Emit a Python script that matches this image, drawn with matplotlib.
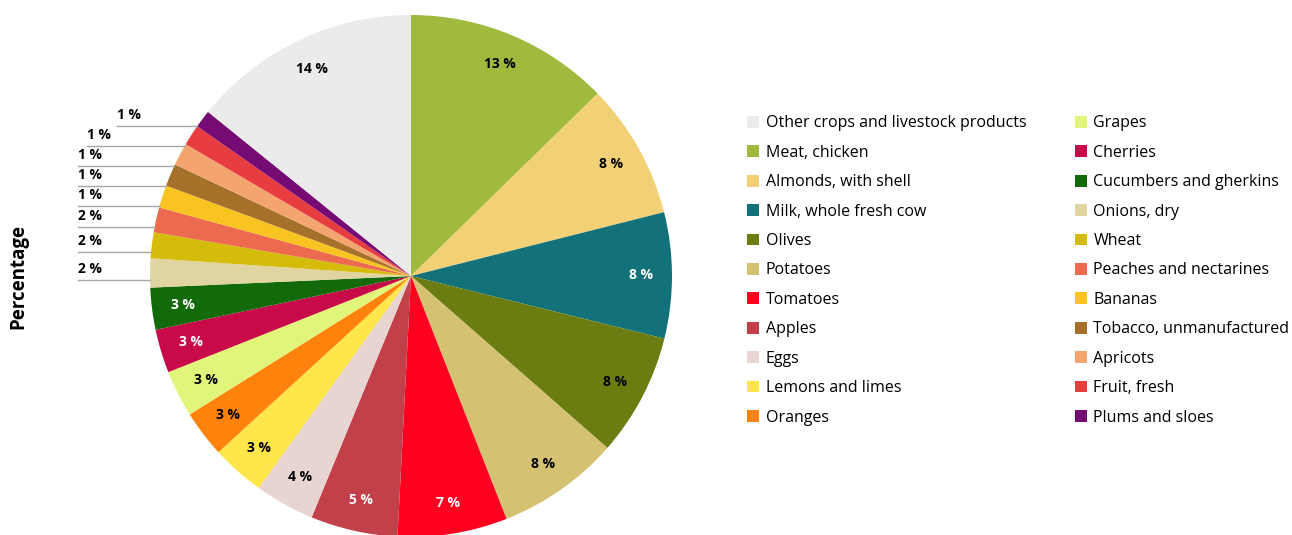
import numpy as np
import matplotlib
matplotlib.use('Agg')
import matplotlib.pyplot as plt
from matplotlib.patches import Patch

plt.rcParams['font.family'] = ['Open Sans', 'DejaVu Sans']

# share of production value, clockwise from 12 o'clock
products = ['Meat, chicken', 'Almonds, with shell', 'Milk, whole fresh cow', 'Olives',
            'Potatoes', 'Tomatoes', 'Apples', 'Eggs', 'Lemons and limes', 'Oranges',
            'Grapes', 'Cherries', 'Cucumbers and gherkins', 'Onions, dry', 'Wheat',
            'Peaches and nectarines', 'Bananas', 'Tobacco, unmanufactured', 'Apricots',
            'Fruit, fresh', 'Plums and sloes', 'Other crops and livestock products']
share = [12.7, 8.4, 7.8, 7.6, 7.6, 6.8, 5.4, 3.7, 3.3, 2.9,
         2.9, 2.7, 2.6, 1.8, 1.6, 1.55, 1.4, 1.4, 1.4, 1.3, 1.1, 14.2]
colors = ['#9fba3c', '#f2d176', '#13717a', '#6b7d10', '#d4c272', '#ff0020', '#c2404a',
          '#e8d5d2', '#ffe64a', '#ff820d', '#e1f57b', '#c80a48', '#136a0b', '#e0d5a0',
          '#d6bc0a', '#ec6a4d', '#f9c322', '#a5702a', '#f4a46e', '#e83d40', '#760b74',
          '#ebebeb']
white_text = ['Milk, whole fresh cow', 'Tomatoes', 'Apples', 'Cherries', 'Cucumbers and gherkins']

fig = plt.figure(figsize=(12.92, 5.35), dpi=100)
R_PX = 261
ax = fig.add_axes([150 / 1292, -2 / 535, 2 * R_PX / 1292, 2 * R_PX / 535])

wedges, _ = ax.pie(share, colors=colors, startangle=90, counterclock=False,
                   radius=1, wedgeprops=dict(linewidth=0))
# pie() widens the limits; keep the circle filling the axes
ax.set_xlim(-1, 1)
ax.set_ylim(-1, 1)
ax.set_aspect('equal')
ax.axis('off')

px = 1 / R_PX
outside = []
for w, name, v in zip(wedges, products, share):
    mid = np.deg2rad((w.theta1 + w.theta2) / 2)
    if v >= 2.5:
        r = 0.88
        ax.text(r * np.cos(mid), r * np.sin(mid), '%.0f %%' % v, ha='center', va='center',
                fontsize=10, fontweight='bold',
                color='white' if name in white_text else 'black')
    else:
        outside.append((np.sin(mid), v))

# small slices: labels on the left, stacked from the top down
outside.sort(key=lambda t: -t[0])
text_x = [-1.126, -1.241, -1.276, -1.276, -1.276, -1.276, -1.276, -1.276]
prev = None
for (y_mid, v), tx in zip(outside, text_x):
    y = y_mid - 7 * px
    if prev is not None and y > prev - 20 * px:
        y = prev - 20 * px
    prev = y
    x_edge = -np.sqrt(1 - y ** 2)
    ax.plot([tx, x_edge], [y, y], color='#a8a8a8', lw=1, clip_on=False)
    ax.text(tx, y + 4 * px, '%.0f %%' % v, ha='left', va='bottom',
            fontsize=10, fontweight='bold', clip_on=False)

fig.text(18 / 1292, 0.483, 'Percentage', rotation=90, ha='center', va='center',
         fontsize=13.5, fontweight='bold')

order = [len(products) - 1] + list(range(len(products) - 1))
handles = [Patch(facecolor=colors[i], edgecolor='none', label=products[i]) for i in order]
fig.legend(handles=handles, ncol=2, loc='upper left', bbox_to_anchor=(741 / 1292, 1 - 109 / 535),
           frameon=False, fontsize=11.5, handlelength=0.75, handleheight=0.75,
           handletextpad=0.4, columnspacing=3.05, labelspacing=0.84, borderaxespad=0)

fig.savefig('out.png', dpi=100)
